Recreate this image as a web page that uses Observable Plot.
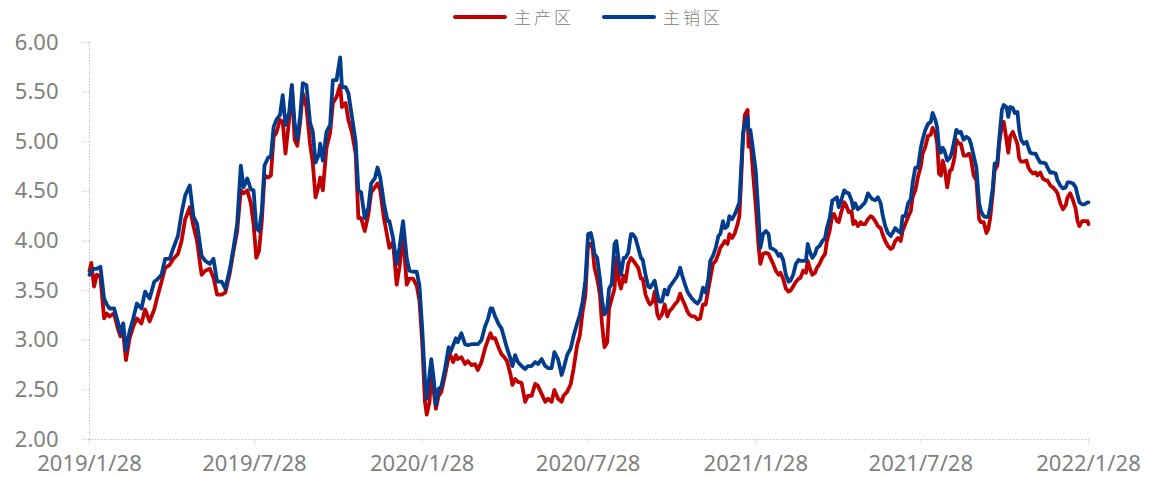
<!DOCTYPE html>
<html><head><meta charset="utf-8">
<script src="https://cdn.jsdelivr.net/npm/d3@7"></script>
<script src="https://cdn.jsdelivr.net/npm/@observablehq/plot@0.6"></script>
<style>
html,body{margin:0;padding:0;background:#fff;}
#wrap{position:relative;width:1151px;height:477px;overflow:hidden;background:#fff;}
#legend{position:relative;height:34px;font-family:"Noto Sans CJK SC","Noto Sans",sans-serif;font-size:17px;color:#7f7f7f;}
.item{position:absolute;top:7px;height:20px;line-height:20px;display:flex;align-items:center;}
.sw{width:54px;height:4px;border-radius:2px;margin-right:7px;}
.lab{letter-spacing:3px;font-weight:300;}
</style></head>
<body><div id="wrap"><div id="legend"></div><div id="chart"></div></div>
<script>
const seriesNames = ["主产区", "主销区"];
const seriesColors = ["#C00000", "#023C8C"];

const dates = [
"2019-01-28","2019-01-30","2019-02-02","2019-02-05","2019-02-09","2019-02-13","2019-02-16","2019-02-19","2019-02-24","2019-02-28",
"2019-03-03","2019-03-06","2019-03-09","2019-03-13","2019-03-17","2019-03-21","2019-03-26","2019-03-30","2019-04-04","2019-04-09",
"2019-04-12","2019-04-17","2019-04-21","2019-04-26","2019-04-30","2019-05-05","2019-05-09","2019-05-13","2019-05-18","2019-05-22",
"2019-05-26","2019-05-31","2019-06-04","2019-06-09","2019-06-13","2019-06-17","2019-06-22","2019-06-26","2019-07-01","2019-07-05",
"2019-07-09","2019-07-13","2019-07-16","2019-07-20","2019-07-24","2019-07-27","2019-07-30","2019-08-02","2019-08-05","2019-08-08",
"2019-08-12","2019-08-15","2019-08-18","2019-08-21","2019-08-25","2019-08-28","2019-08-31","2019-09-04","2019-09-07","2019-09-10",
"2019-09-13","2019-09-16","2019-09-19","2019-09-23","2019-09-27","2019-09-30","2019-10-03","2019-10-07","2019-10-08","2019-10-11",
"2019-10-15","2019-10-19","2019-10-22","2019-10-26","2019-10-30","2019-11-01","2019-11-05","2019-11-08","2019-11-12","2019-11-16",
"2019-11-19","2019-11-22","2019-11-26","2019-11-30","2019-12-03","2019-12-07","2019-12-10","2019-12-13","2019-12-17","2019-12-21",
"2019-12-23","2019-12-27","2019-12-31","2020-01-03","2020-01-07","2020-01-11","2020-01-14","2020-01-18","2020-01-22","2020-01-25",
"2020-01-28","2020-01-31","2020-02-02","2020-02-05","2020-02-07","2020-02-10","2020-02-12","2020-02-15","2020-02-18","2020-02-22",
"2020-02-26","2020-02-28","2020-03-02","2020-03-05","2020-03-07","2020-03-11","2020-03-15","2020-03-18","2020-03-22","2020-03-26","2020-03-29",
"2020-04-02","2020-04-06","2020-04-09","2020-04-12","2020-04-14","2020-04-17","2020-04-21","2020-04-24","2020-04-27","2020-04-30","2020-05-04",
"2020-05-06","2020-05-09","2020-05-12","2020-05-16","2020-05-20","2020-05-23","2020-05-27","2020-05-31","2020-06-03","2020-06-07",
"2020-06-11","2020-06-14","2020-06-18","2020-06-21","2020-06-25","2020-06-29","2020-07-01","2020-07-05","2020-07-09",
"2020-07-12","2020-07-16","2020-07-19","2020-07-22","2020-07-25","2020-07-28","2020-07-31","2020-08-02","2020-08-04","2020-08-07","2020-08-10","2020-08-12",
"2020-08-15","2020-08-18","2020-08-20","2020-08-23","2020-08-26","2020-08-28","2020-08-31","2020-09-02","2020-09-05","2020-09-07",
"2020-09-10","2020-09-13","2020-09-15","2020-09-18","2020-09-21","2020-09-24","2020-09-26","2020-09-29","2020-10-02","2020-10-04",
"2020-10-07","2020-10-09","2020-10-12","2020-10-14","2020-10-17","2020-10-20","2020-10-23","2020-10-25","2020-10-28","2020-10-31",
"2020-11-03","2020-11-06","2020-11-08","2020-11-11","2020-11-14","2020-11-16","2020-11-19","2020-11-22","2020-11-25","2020-11-28",
"2020-12-01","2020-12-04","2020-12-07","2020-12-09","2020-12-12","2020-12-15","2020-12-18","2020-12-20","2020-12-23","2020-12-25",
"2020-12-28","2020-12-30","2021-01-02","2021-01-05","2021-01-08","2021-01-10","2021-01-12","2021-01-14","2021-01-16","2021-01-19","2021-01-20","2021-01-22",
"2021-01-25","2021-01-28","2021-01-31","2021-02-02","2021-02-05","2021-02-08","2021-02-11","2021-02-13","2021-02-16","2021-02-19","2021-02-22","2021-02-24","2021-02-27",
"2021-03-02","2021-03-05","2021-03-07","2021-03-10","2021-03-13","2021-03-16","2021-03-18","2021-03-21","2021-03-24","2021-03-26","2021-03-28",
"2021-03-31","2021-04-03","2021-04-05","2021-04-08","2021-04-11","2021-04-14","2021-04-16","2021-04-19","2021-04-22","2021-04-24",
"2021-04-27","2021-04-29","2021-05-02","2021-05-05","2021-05-07","2021-05-10","2021-05-13","2021-05-15","2021-05-17","2021-05-20",
"2021-05-23","2021-05-25","2021-05-28","2021-05-31","2021-06-03","2021-06-05","2021-06-08","2021-06-11","2021-06-14",
"2021-06-16","2021-06-19","2021-06-22","2021-06-25","2021-06-27","2021-06-30","2021-07-03","2021-07-06","2021-07-08",
"2021-07-11","2021-07-14","2021-07-17","2021-07-19","2021-07-22","2021-07-25","2021-07-28","2021-07-30","2021-08-02","2021-08-05",
"2021-08-08","2021-08-10","2021-08-13","2021-08-15","2021-08-17","2021-08-19","2021-08-21","2021-08-23","2021-08-26","2021-08-29","2021-08-31",
"2021-09-03","2021-09-05","2021-09-08","2021-09-10","2021-09-13","2021-09-16","2021-09-19","2021-09-21","2021-09-24","2021-09-27",
"2021-09-30","2021-10-02","2021-10-05","2021-10-08","2021-10-10","2021-10-12","2021-10-15","2021-10-17","2021-10-20","2021-10-22",
"2021-10-25","2021-10-27","2021-10-30","2021-11-01","2021-11-03","2021-11-06","2021-11-08","2021-11-11","2021-11-13","2021-11-15",
"2021-11-18","2021-11-21","2021-11-23","2021-11-25","2021-11-28","2021-12-01","2021-12-03","2021-12-06","2021-12-09","2021-12-12",
"2021-12-14","2021-12-17","2021-12-20","2021-12-23","2021-12-25","2021-12-28","2021-12-31","2022-01-03","2022-01-05",
"2022-01-08","2022-01-11","2022-01-14","2022-01-16","2022-01-18","2022-01-21","2022-01-24","2022-01-27","2022-01-28"
];

// 主产区
const producing = [
3.70,3.78,3.54,3.66,3.64,3.22,3.27,3.24,3.27,3.12,
3.04,3.07,2.80,3.02,3.14,3.22,3.17,3.31,3.19,3.31,
3.42,3.59,3.73,3.76,3.82,3.87,4.00,4.22,4.34,4.15,
4.00,3.66,3.70,3.72,3.63,3.46,3.46,3.48,3.68,3.90,
4.10,4.51,4.48,4.51,4.38,4.17,3.83,3.90,4.20,4.66,
4.64,4.66,5.05,5.09,5.22,5.20,4.88,5.22,5.57,5.02,
4.96,5.19,5.49,5.35,4.98,4.78,4.44,4.58,4.64,4.51,
4.94,5.09,5.39,5.45,5.57,5.35,5.39,5.22,5.09,4.88,
4.23,4.23,4.10,4.27,4.49,4.54,4.58,4.51,4.23,4.03,
3.93,3.99,3.56,3.73,4.07,3.56,3.62,3.62,3.55,3.40,
2.98,2.38,2.25,2.38,2.65,2.46,2.31,2.44,2.48,2.65,
2.83,2.85,2.78,2.85,2.81,2.83,2.76,2.79,2.75,2.76,2.70,
2.78,2.92,3.00,3.07,3.02,3.02,2.92,2.86,2.83,2.79,2.65,
2.55,2.61,2.58,2.57,2.38,2.44,2.44,2.56,2.54,2.46,
2.38,2.41,2.38,2.50,2.41,2.38,2.44,2.48,2.56,
2.71,2.95,3.05,3.29,3.45,3.97,3.97,3.92,3.73,3.62,3.46,3.19,
2.93,2.98,3.32,3.42,3.52,3.83,3.59,3.52,3.65,3.59,
3.77,3.83,3.81,3.77,3.73,3.62,3.62,3.46,3.39,3.36,
3.39,3.49,3.26,3.22,3.26,3.36,3.24,3.29,3.32,3.36,
3.39,3.47,3.42,3.36,3.29,3.26,3.24,3.24,3.21,3.22,
3.36,3.36,3.52,3.62,3.77,3.80,3.87,3.93,3.97,4.00,
3.97,4.07,4.03,4.08,4.17,4.25,4.64,5.05,5.27,5.32,4.95,5.05,
4.68,4.35,3.95,3.77,3.87,3.88,3.87,3.83,3.77,3.70,3.66,3.68,3.62,
3.52,3.49,3.50,3.54,3.59,3.62,3.63,3.70,3.68,3.80,3.73,
3.66,3.68,3.73,3.77,3.83,3.87,4.00,4.10,4.27,4.27,
4.20,4.19,4.30,4.39,4.36,4.29,4.30,4.17,4.20,4.15,
4.19,4.17,4.17,4.22,4.25,4.24,4.20,4.15,4.13,
4.07,4.00,3.95,3.92,3.93,4.00,4.03,4.00,4.10,
4.17,4.24,4.30,4.44,4.51,4.65,4.75,4.88,4.95,5.06,
5.07,5.14,5.09,4.98,4.68,4.66,4.81,4.74,4.54,4.71,4.72,
4.84,5.02,4.98,4.98,4.86,4.86,4.88,4.83,4.66,4.61,
4.22,4.19,4.19,4.08,4.12,4.22,4.48,4.71,4.76,4.98,
5.17,5.20,5.02,4.89,5.05,5.10,5.05,4.98,4.83,4.80,
4.80,4.81,4.74,4.71,4.68,4.69,4.66,4.69,4.63,4.61,
4.61,4.56,4.54,4.51,4.48,4.38,4.32,4.36,4.44,
4.48,4.41,4.32,4.20,4.15,4.20,4.20,4.20,4.17
];

// 主销区
const consuming = [
3.66,3.70,3.72,3.72,3.74,3.42,3.36,3.32,3.32,3.19,
3.07,3.17,2.90,3.09,3.22,3.37,3.32,3.49,3.42,3.59,
3.61,3.66,3.82,3.82,3.93,4.05,4.28,4.46,4.56,4.25,
4.17,3.85,3.80,3.77,3.82,3.59,3.59,3.52,3.72,3.93,
4.17,4.76,4.54,4.63,4.52,4.51,4.13,4.10,4.30,4.76,
4.84,4.85,5.15,5.22,5.27,5.47,5.17,5.29,5.57,5.19,
5.02,5.25,5.59,5.57,5.19,5.10,4.79,4.88,4.98,4.81,
5.10,5.17,5.62,5.62,5.85,5.55,5.55,5.49,5.25,5.00,
4.51,4.49,4.23,4.34,4.58,4.63,4.74,4.64,4.38,4.20,
4.20,4.03,3.77,3.93,4.20,3.83,3.70,3.69,3.69,3.55,
3.12,2.61,2.41,2.65,2.81,2.58,2.35,2.51,2.53,2.71,
2.93,2.88,2.95,3.02,2.98,3.07,2.96,2.95,2.96,2.96,2.96,
3.00,3.14,3.21,3.32,3.32,3.24,3.16,3.12,3.02,2.92,2.81,
2.74,2.85,2.78,2.74,2.71,2.74,2.74,2.78,2.76,2.81,
2.74,2.72,2.72,2.88,2.81,2.65,2.71,2.85,2.92,
3.04,3.17,3.26,3.39,3.60,4.07,4.08,4.00,3.87,3.83,3.62,3.42,
3.26,3.32,3.52,3.57,3.97,4.00,3.77,3.66,3.83,3.83,
3.88,4.07,4.07,4.03,3.93,3.83,3.81,3.66,3.54,3.53,
3.57,3.60,3.46,3.39,3.39,3.51,3.46,3.53,3.57,3.61,
3.65,3.73,3.66,3.57,3.49,3.46,3.42,3.39,3.37,3.41,
3.53,3.48,3.62,3.80,3.85,3.93,4.05,4.07,4.20,4.13,
4.15,4.25,4.22,4.27,4.34,4.39,4.74,5.08,5.19,5.25,5.12,5.12,
4.92,4.70,4.25,3.93,4.07,4.10,4.07,3.93,3.92,3.90,3.85,3.87,3.81,
3.66,3.59,3.60,3.66,3.77,3.81,3.80,3.80,3.80,3.97,3.90,
3.83,3.87,3.93,3.95,4.00,4.03,4.13,4.23,4.41,4.42,
4.44,4.34,4.42,4.51,4.49,4.48,4.41,4.33,4.38,4.32,
4.34,4.36,4.39,4.48,4.44,4.42,4.41,4.44,4.38,
4.27,4.15,4.08,4.05,4.08,4.13,4.10,4.08,4.25,
4.25,4.38,4.42,4.58,4.74,4.74,4.94,5.02,5.12,5.18,
5.20,5.29,5.22,5.14,4.94,4.89,4.94,4.91,4.81,4.84,4.89,
5.02,5.12,5.09,5.10,5.02,5.05,5.03,4.98,4.86,4.74,
4.38,4.30,4.25,4.24,4.25,4.34,4.54,4.78,4.79,5.02,
5.32,5.37,5.35,5.25,5.35,5.34,5.29,5.30,5.12,5.02,
4.98,5.00,4.94,4.89,4.88,4.88,4.84,4.79,4.79,4.78,
4.74,4.69,4.69,4.68,4.61,4.56,4.53,4.54,4.59,
4.59,4.58,4.54,4.46,4.39,4.37,4.37,4.39,4.39
];

const yTicks = [2, 2.5, 3, 3.5, 4, 4.5, 5, 5.5, 6];
const xTickDates = ["2019-01-28","2019-07-28","2020-01-28","2020-07-28","2021-01-28","2021-07-28","2022-01-28"];
const xTickLabels = ["2019/1/28","2019/7/28","2020/1/28","2020/7/28","2021/1/28","2021/7/28","2022/1/28"];

if (producing.length !== dates.length || consuming.length !== dates.length) {
  throw new Error("length mismatch " + dates.length + " " + producing.length + " " + consuming.length);
}

const parse = d3.utcParse("%Y-%m-%d");
const seriesValues = [producing, consuming];
const rows = [];
seriesNames.forEach((name, s) => {
  dates.forEach((d, i) => rows.push({series: name, date: parse(d), value: seriesValues[s][i]}));
});
const tickDates = xTickDates.map(parse);
const labelOf = new Map(xTickDates.map((d, i) => [+parse(d), xTickLabels[i]]));

// legend
const legend = document.getElementById("legend");
const legendLeft = [453, 602];
seriesNames.forEach((name, i) => {
  const item = document.createElement("div");
  item.className = "item";
  item.style.left = legendLeft[i] + "px";
  item.innerHTML = `<span class="sw" style="background:${seriesColors[i]}"></span><span class="lab">${name}</span>`;
  legend.appendChild(item);
});

const axisGrey = "#c4c4c4";
const chart = Plot.plot({
  width: 1151,
  height: 443,
  marginLeft: 89,
  marginRight: 63,
  marginTop: 8,
  marginBottom: 38,
  style: {fontFamily: "'Noto Sans', sans-serif", fontSize: "22px", color: "#7f7f7f", background: "#fff", overflow: "visible"},
  x: {type: "utc", domain: [tickDates[0], tickDates[tickDates.length - 1]]},
  y: {domain: [2, 6]},
  color: {domain: seriesNames, range: seriesColors},
  marks: [
    Plot.ruleY([2], {stroke: axisGrey, strokeDasharray: "1.5,1.5"}),
    Plot.ruleX([tickDates[0]], {stroke: axisGrey, strokeDasharray: "1.5,1.5"}),
    Plot.axisY({ticks: yTicks, tickSize: 7, tickPadding: 24, tickFormat: d3.format(".2f"),
      stroke: axisGrey, strokeDasharray: "1.5,1.5", fill: "#7f7f7f", label: null}),
    Plot.axisX({ticks: tickDates, tickSize: 5, tickPadding: 11, tickFormat: d => labelOf.get(+d),
      stroke: axisGrey, strokeDasharray: "1.5,1.5", fill: "#7f7f7f", label: null}),
    Plot.line(rows, {x: "date", y: "value", z: "series", stroke: "series", strokeWidth: 3.8, curve: "linear"})
  ]
});
document.getElementById("chart").appendChild(chart);
</script>
</body></html>
